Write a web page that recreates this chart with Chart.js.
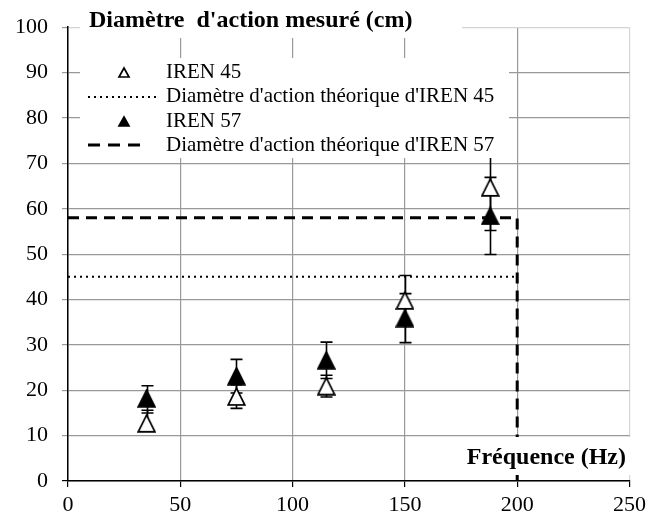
<!DOCTYPE html>
<html><head><meta charset="utf-8">
<script src="https://cdn.jsdelivr.net/npm/chart.js@4/dist/chart.umd.min.js"></script>
<style>html,body{margin:0;padding:0;background:#fff}#wrap{width:651px;height:520px;position:relative}</style>
</head><body><div id="wrap"><canvas id="c" width="651" height="520"></canvas></div>
<script>
const freq = [35, 75, 115, 150, 188];
const iren45 = [12.7, 18.6, 20.9, 39.8, 64.7];
const iren45ErrPlus = [2.9, 2.6, 2.4, 5.5, 9.5];
const iren45ErrMinus = [1.5, 2.6, 2.4, 5.5, 9.5];
const iren57 = [18.2, 23.1, 26.6, 35.9, 58.4];
const iren57ErrPlus = [2.8, 3.7, 4, 5.4, 8.5];
const iren57ErrMinus = [3.2, 3.7, 4, 5.4, 8.5];
const theo45 = 45;
const theo57 = 58;
const theoFreq = 200;
const xTicks = [0, 50, 100, 150, 200, 250];
const yTicks = [0, 10, 20, 30, 40, 50, 60, 70, 80, 90, 100];
const legendLabels = ["IREN 45", "Diamètre d'action théorique d'IREN 45", "IREN 57", "Diamètre d'action théorique d'IREN 57"];
const yTitle = "Diamètre  d'action mesuré (cm)";
const xTitle = "Fréquence (Hz)";

const FONT = '"Liberation Serif", serif';
const pts = (xs, ys) => xs.map((x, i) => ({x, y: ys[i]}));

function makeTri(filled) {
  const c = document.createElement('canvas');
  c.width = 19; c.height = 19;
  const g = c.getContext('2d');
  g.beginPath();
  g.moveTo(9.5, 1.2); g.lineTo(17.8, 17.8); g.lineTo(1.2, 17.8); g.closePath();
  g.fillStyle = filled ? '#000' : '#fff';
  g.fill();
  g.lineWidth = 1.7; g.lineJoin = 'miter'; g.strokeStyle = '#000';
  g.stroke();
  return c;
}

const errorBars = {
  id: 'errorBars',
  beforeDatasetsDraw(chart) {
    const ctx = chart.ctx, xs = chart.scales.x, ys = chart.scales.y;
    ctx.save();
    ctx.strokeStyle = '#000';
    ctx.lineWidth = 1.6;
    chart.data.datasets.forEach(ds => {
      if (!ds.errPlus) return;
      ds.data.forEach((p, i) => {
        const px = Math.round(xs.getPixelForValue(p.x)) + 0.5;
        const y1 = ys.getPixelForValue(p.y - ds.errMinus[i]), y2 = ys.getPixelForValue(p.y + ds.errPlus[i]);
        ctx.beginPath();
        ctx.moveTo(px, y1); ctx.lineTo(px, y2);
        ctx.moveTo(px - 6, y1); ctx.lineTo(px + 6, y1);
        ctx.moveTo(px - 6, y2); ctx.lineTo(px + 6, y2);
        ctx.stroke();
      });
    });
    ctx.restore();
  }
};

function tri(ctx, x, y, w, h, filled) {
  ctx.beginPath();
  ctx.moveTo(x, y - h / 2);
  ctx.lineTo(x + w / 2, y + h / 2);
  ctx.lineTo(x - w / 2, y + h / 2);
  ctx.closePath();
  ctx.fillStyle = filled ? '#000' : '#fff';
  ctx.fill();
  ctx.lineWidth = 1.7;
  ctx.strokeStyle = '#000';
  ctx.stroke();
}

const overlay = {
  id: 'overlay',
  afterDatasetsDraw(chart) {
    const ctx = chart.ctx;
    ctx.save();
    ctx.fillStyle = '#fff';
    ctx.fillRect(80, 0, 382, 38);
    ctx.fillRect(80, 58, 429, 100);
    ctx.fillRect(455, 437, 177, 38);
    ctx.fillStyle = '#000';
    ctx.textBaseline = 'middle';
    ctx.textAlign = 'left';
    ctx.font = 'bold 24px ' + FONT;
    ctx.fillText(yTitle, 89, 21);
    ctx.textAlign = 'right';
    ctx.fillText(xTitle, 626, 458);
    ctx.textAlign = 'left';
    ctx.font = '21px ' + FONT;
    const rows = [72, 96.5, 121, 145];
    legendLabels.forEach((t, i) => { ctx.fillStyle = '#000'; ctx.fillText(t, 166, rows[i]); });
    tri(ctx, 124, 72.5, 10, 9, false);
    tri(ctx, 124, 121.5, 10, 9, true);
    ctx.strokeStyle = '#000';
    ctx.lineWidth = 2;
    ctx.setLineDash([2, 4]);
    ctx.beginPath(); ctx.moveTo(88, 97); ctx.lineTo(158, 97); ctx.stroke();
    ctx.lineWidth = 3;
    ctx.setLineDash([12, 8]);
    ctx.beginPath(); ctx.moveTo(88, 145); ctx.lineTo(148, 145); ctx.stroke();
    ctx.restore();
  }
};

function build() {
new Chart(document.getElementById('c'), {
  type: 'scatter',
  data: {
    datasets: [
      { label: legendLabels[2], data: pts(freq, iren57), errPlus: iren57ErrPlus, errMinus: iren57ErrMinus,
        pointStyle: makeTri(true), radius: 9, hoverRadius: 9, order: 1 },
      { label: legendLabels[0], data: pts(freq, iren45), errPlus: iren45ErrPlus, errMinus: iren45ErrMinus,
        pointStyle: makeTri(false), radius: 9, hoverRadius: 9, order: 2 },
      { label: legendLabels[1], data: [{x: 0, y: theo45}, {x: theoFreq, y: theo45}], showLine: true,
        borderColor: '#000', borderWidth: 2, borderDash: [2, 4], pointRadius: 0, order: 4, fill: false },
      { label: legendLabels[3], data: [{x: 0, y: theo57}, {x: theoFreq, y: theo57}, {x: theoFreq, y: 0}], showLine: true,
        borderColor: '#000', borderWidth: 3, borderDash: [11, 7], pointRadius: 0, order: 3, fill: false }
    ]
  },
  options: {
    responsive: false,
    animation: false,
    events: [],
    layout: { padding: { top: 26, right: 17, left: 0, bottom: 0 } },
    plugins: { legend: { display: false }, tooltip: { enabled: false }, title: { display: false } },
    scales: {
      x: {
        type: 'linear', min: 0, max: 250,
        afterFit(s) { s.height = 39; },
        afterBuildTicks(s) { s.ticks = xTicks.map(v => ({value: v})); },
        ticks: { font: { family: FONT, size: 22 }, color: '#000', padding: 5, maxRotation: 0 },
        grid: { color: c => c.tick && c.tick.value === 250 ? '#d4d4d4' : '#999', lineWidth: 1.2, tickLength: 6, tickColor: '#000' },
        border: { color: '#000', width: 1.5 }
      },
      y: {
        type: 'linear', min: 0, max: 100,
        afterFit(s) { s.width = 68; },
        afterBuildTicks(s) { s.ticks = yTicks.map(v => ({value: v})); },
        ticks: { font: { family: FONT, size: 22 }, color: '#000', padding: 14 },
        grid: { color: c => c.tick && c.tick.value === 100 ? '#d4d4d4' : '#999', lineWidth: 1.2, tickLength: 6,
                tickColor: c => c.tick && c.tick.value === 0 ? '#000' : '#999' },
        border: { color: '#000', width: 1.5 }
      }
    }
  },
  plugins: [errorBars, overlay]
});
}
Promise.all([
  document.fonts.load('20px "Liberation Serif"'),
  document.fonts.load('bold 20px "Liberation Serif"')
]).then(build, build);
</script>
</body></html>
